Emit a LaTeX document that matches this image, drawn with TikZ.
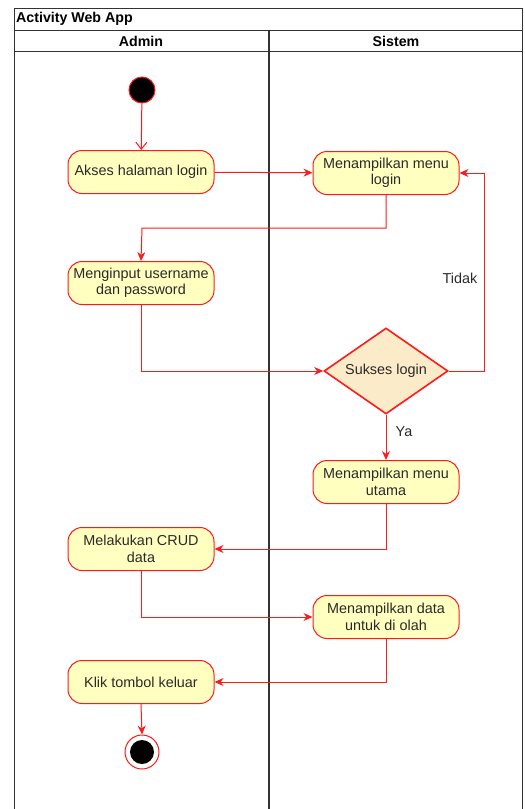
\documentclass[tikz,border=0pt]{standalone}
\usepackage{fontspec}
\setmainfont{Liberation Sans}
\usetikzlibrary{shapes.geometric,arrows.meta}
\definecolor{actfill}{HTML}{FFFFC0}
\definecolor{decfill}{HTML}{FCEBC8}
\definecolor{flowred}{HTML}{FF1A1A}
\definecolor{frameline}{HTML}{333333}
\definecolor{txt}{HTML}{2A2A2A}
\tikzset{
  activity/.style={draw=flowred, fill=actfill, rounded corners=14pt, line width=1pt,
    minimum width=146pt, minimum height=43pt, inner sep=2pt, align=center,
    text=txt, font=\fontsize{14.4}{16.5}\selectfont},
  decision/.style={draw=flowred, fill=decfill, diamond, aspect=1.44, line width=1.6pt,
    minimum width=124pt, minimum height=86pt, inner sep=0pt, text=txt,
    font=\fontsize{14.4}{16.5}\selectfont},
  flow/.style={draw=flowred, line width=1pt, -{Stealth[length=9pt,width=8pt]}},
  initflow/.style={draw=flowred, line width=1pt, -{Straight Barb[length=7pt,width=11pt]}},
  lane/.style={draw=frameline, line width=1pt},
  lbl/.style={text=txt, font=\fontsize{14.4}{16.5}\selectfont},
  hdr/.style={text=black, font=\bfseries\fontsize{14.2}{16.5}\selectfont}
}
\begin{document}
\begin{tikzpicture}[x=1pt,y=-1pt]
\useasboundingbox (0,0) rectangle (525,809);
% swimlane frame
\draw[lane] (14,809) -- (14,8) -- (522,8) -- (522,809);
\draw[lane] (14,30) -- (522,30);
\draw[lane] (14,51) -- (522,51);
\draw[lane, line width=1.3pt] (269,30) -- (269,809);
\node[hdr, anchor=west, inner sep=1pt] (title) at (15,19) {Activity Web App};
\node[hdr] (admin) at (141,41) {Admin};
\node[hdr] (sistem) at (396,41) {Sistem};
% states
\node[circle, draw=flowred, fill=black, line width=1pt, minimum size=26pt, inner sep=0pt] (start) at (142,90) {};
\node[activity] (akses) at (141,172) {Akses halaman login};
\node[activity] (menulogin) at (386,173) {Menampilkan menu\\login};
\node[activity] (input) at (141,283) {Menginput username\\dan password};
\node[decision] (sukses) at (386,371) {Sukses login};
\node[activity] (utama) at (386,482) {Menampilkan menu\\utama};
\node[activity] (crud) at (141,549) {Melakukan CRUD\\data};
\node[activity] (olah) at (386,617) {Menampilkan data\\untuk di olah};
\node[activity] (keluar) at (141,682) {Klik tombol keluar};
\node[circle, draw=flowred, fill=white, line width=1pt, minimum size=34pt, inner sep=0pt] (end) at (142,752) {};
\node[circle, fill=black, minimum size=24pt, inner sep=0pt] (endcore) at (end) {};
% transitions
\draw[initflow] (start) -- (akses);
\draw[flow] (akses) -- (menulogin);
\draw[flow] (menulogin.south) |- (142,228) -- (input.north);
\draw[flow] (input.south) |- (sukses.west);
\draw[flow] (sukses.east) -- (484,371) |- (menulogin.east);
\node[lbl] (tidak) at (460,278) {Tidak};
\draw[flow] (sukses.south) -- (utama.north);
\node[lbl] (ya) at (404,432) {Ya};
\draw[flow] (utama.south) |- (crud.east);
\draw[flow] (crud.south) |- (olah.west);
\draw[flow] (olah.south) |- (keluar.east);
\draw[flow] (keluar.south) -- (end.north);
\end{tikzpicture}
\end{document}
